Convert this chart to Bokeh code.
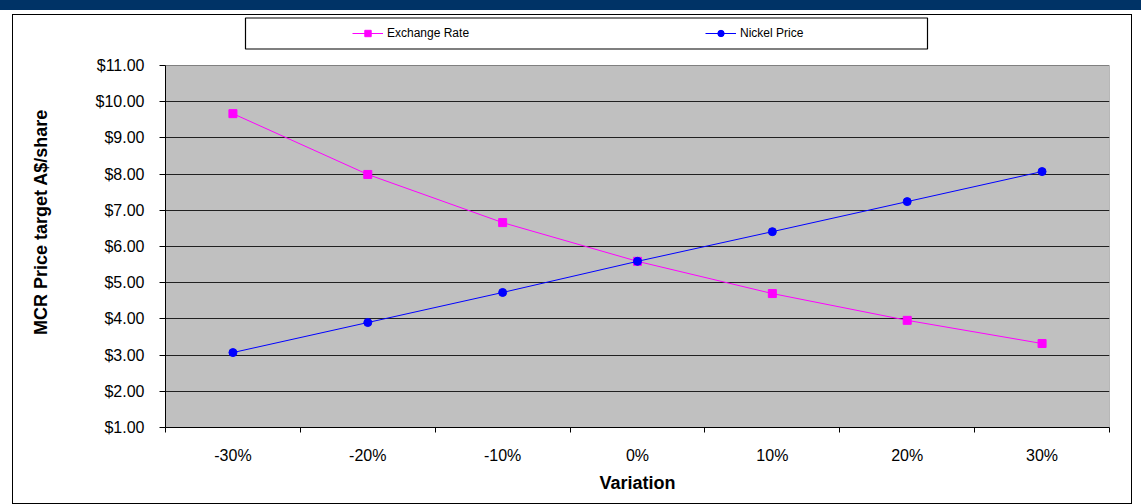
from bokeh.plotting import figure
from bokeh.models import FixedTicker, Legend, LegendItem, ColumnDataSource, Div, BoxAnnotation
from bokeh.layouts import column
from bokeh.embed import file_html
from bokeh.resources import INLINE

categories = ["-30%", "-20%", "-10%", "0%", "10%", "20%", "30%"]
exchange_rate = [9.67, 7.99, 6.66, 5.59, 4.70, 3.96, 3.32]
nickel_price = [3.07, 3.90, 4.73, 5.59, 6.41, 7.24, 8.07]
y_ticks = [1, 2, 3, 4, 5, 6, 7, 8, 9, 10, 11]
y_tick_labels = ["$1.00", "$2.00", "$3.00", "$4.00", "$5.00", "$6.00",
                 "$7.00", "$8.00", "$9.00", "$10.00", "$11.00"]

FONT = "Liberation Sans"

xpos = [i + 0.5 for i in range(len(categories))]
src = ColumnDataSource(dict(x=xpos, cat=categories, er=exchange_rate, ni=nickel_price))

# layout constants (figure canvas pixels)
FIG_W, FIG_H = 1120, 490
B_LEFT, B_RIGHT, B_TOP, B_BOTTOM = 152, 24, 1, 78
PLOT_TOP_PX = 50            # where the value 11 sits, from canvas top
frame_h = FIG_H - B_TOP - B_BOTTOM
px_per_unit = (frame_h - (PLOT_TOP_PX - B_TOP)) / (y_ticks[-1] - y_ticks[0])
y_top = y_ticks[-1] + (PLOT_TOP_PX - B_TOP) / px_per_unit

band = Div(text="", width=1141, height=10, margin=0,
           styles={"background-color": "#003366"})

p = figure(width=FIG_W, height=FIG_H, x_range=(0, len(categories)), y_range=(y_ticks[0], y_top),
           output_backend="svg", toolbar_location=None,
           min_border_left=B_LEFT, min_border_right=B_RIGHT, min_border_top=B_TOP,
           min_border_bottom=B_BOTTOM,
           background_fill_color="white", border_fill_color="white",
           margin=(4, 0, 0, 12))
p.styles = {"border": "1px solid black"}
p.outline_line_color = None

# grey plot area
p.quad(left=0, right=len(categories), bottom=y_ticks[0], top=y_ticks[-1],
       fill_color="#C0C0C0", line_color="#808080", line_width=1, level="image")

# Y axis
p.yaxis.bounds = (y_ticks[0], y_ticks[-1])
p.yaxis.ticker = FixedTicker(ticks=y_ticks, minor_ticks=[])
p.yaxis.major_label_overrides = {t: l for t, l in zip(y_ticks, y_tick_labels)}
p.yaxis.major_tick_out = 6
p.yaxis.major_tick_in = 0
p.yaxis.major_tick_line_color = "black"
p.yaxis.axis_line_color = "black"
p.yaxis.major_label_standoff = 15
p.yaxis.major_label_text_font = FONT
p.yaxis.major_label_text_font_size = "16px"
p.yaxis.major_label_text_color = "black"
p.yaxis.axis_label = "MCR Price target A$/share"
p.yaxis.axis_label_text_font = FONT
p.yaxis.axis_label_text_font_size = "18px"
p.yaxis.axis_label_text_font_style = "bold"
p.yaxis.axis_label_text_color = "black"
p.yaxis.axis_label_standoff = 42

# X axis: labels centred on categories, ticks on category boundaries
p.xaxis.ticker = FixedTicker(ticks=xpos, minor_ticks=list(range(len(categories) + 1)))
p.xaxis.major_label_overrides = {x: c for x, c in zip(xpos, categories)}
p.xaxis.major_tick_out = 0
p.xaxis.major_tick_in = 0
p.xaxis.minor_tick_out = 5
p.xaxis.minor_tick_in = 0
p.xaxis.minor_tick_line_color = "black"
p.xaxis.axis_line_color = "black"
p.xaxis.major_label_standoff = 14
p.xaxis.major_label_text_font = FONT
p.xaxis.major_label_text_font_size = "16px"
p.xaxis.major_label_text_color = "black"
p.xaxis.axis_label = "Variation"
p.xaxis.axis_label_text_font = FONT
p.xaxis.axis_label_text_font_size = "18px"
p.xaxis.axis_label_text_font_style = "bold"
p.xaxis.axis_label_text_color = "black"
p.xaxis.axis_label_standoff = 6

p.xgrid.visible = False
p.ygrid.ticker = FixedTicker(ticks=y_ticks[1:-1])
p.ygrid.grid_line_color = "#202020"
p.ygrid.grid_line_width = 1

# Series
l1 = p.line("x", "er", source=src, line_color="#FF00FF", line_width=1)
s1 = p.scatter("x", "er", source=src, marker="square", size=8,
               fill_color="#FF00FF", line_color="#FF00FF")
l2 = p.line("x", "ni", source=src, line_color="#0000FF", line_width=1)
s2 = p.scatter("x", "ni", source=src, marker="circle", size=8,
               fill_color="#0000FF", line_color="#0000FF")

# legend box
legbox = BoxAnnotation(left=231, right=913, top=1.5, bottom=32.5,
                       left_units="canvas", right_units="canvas",
                       top_units="canvas", bottom_units="canvas",
                       fill_color="white", fill_alpha=1,
                       line_color="black", line_width=1.2, line_alpha=1)
p.add_layout(legbox)

legend = Legend(items=[LegendItem(label="Exchange Rate", renderers=[l1, s1]),
                       LegendItem(label="Nickel Price", renderers=[l2, s2])],
                orientation="horizontal", location=(187, frame_h - 27),
                padding=0, spacing=0, margin=0,
                glyph_width=31, glyph_height=16, label_standoff=4,
                label_width=318, label_height=20,
                label_text_font=FONT, label_text_font_size="12px",
                label_text_color="black",
                border_line_color=None, background_fill_alpha=0)
p.add_layout(legend, "center")

layout = column(band, p, margin=0, spacing=0)
open("out.html", "w").write(file_html(layout, INLINE))
